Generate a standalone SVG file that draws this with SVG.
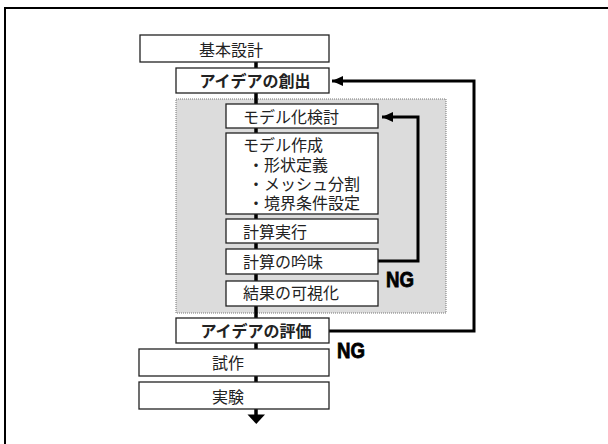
<svg xmlns="http://www.w3.org/2000/svg" width="608" height="444" viewBox="0 0 608 444">
<style>
.box{fill:#fff;stroke:#222;stroke-width:1.3}
.t{font-family:"Liberation Sans","Noto Sans CJK JP","Noto Sans CJK SC",sans-serif;font-size:16px;fill:#222}
.b{font-weight:bold}
.ln{stroke:#000;stroke-width:3.5;fill:none}
.fb{stroke:#000;stroke-width:3;fill:none}
.ng{font-family:"Liberation Sans",sans-serif;font-weight:bold;font-size:22px;fill:#000;stroke:#000;stroke-width:0.8}
</style>
<defs>
<marker id="ah" markerWidth="12" markerHeight="10" refX="11" refY="5" orient="auto" markerUnits="userSpaceOnUse">
<path d="M0,0 L11,5 L0,10 Z" fill="#000"/>
</marker>
</defs>
<rect x="5" y="8" width="620" height="460" fill="#fff" stroke="#000" stroke-width="2"/>
<g id="group-area">
<rect x="176" y="99" width="270" height="214" fill="#dcdcdc" stroke="#777" stroke-width="1" stroke-dasharray="1,1"/>
</g>
<g id="connectors">
<line class="ln" x1="256" y1="62" x2="256" y2="68"/>
<line class="ln" x1="256" y1="93" x2="256" y2="104"/>
<line class="ln" x1="256" y1="128" x2="256" y2="133"/>
<line class="ln" x1="256" y1="214" x2="256" y2="219"/>
<line class="ln" x1="256" y1="243" x2="256" y2="249"/>
<line class="ln" x1="256" y1="274" x2="256" y2="281"/>
<line class="ln" x1="256" y1="306" x2="256" y2="318"/>
<line class="ln" x1="256" y1="343" x2="256" y2="349"/>
<line class="ln" x1="256" y1="376" x2="256" y2="382"/>
<line class="ln" x1="256" y1="409" x2="256" y2="415"/>
<path d="M247.5,414.5 L265,414.5 L256.25,424 Z" fill="#000"/>
<polyline class="fb" points="378,261 418,261 418,117 382,117" marker-end="url(#ah)"/>
<polyline class="fb" points="329,331 474,331 474,81 332,81" marker-end="url(#ah)"/>
</g>
<g id="n-kihon"><rect class="box" x="140" y="35" width="189" height="27"/><text class="t" x="231" y="56" text-anchor="middle">基本設計</text></g>
<g id="n-sosyutsu"><rect class="box" x="176" y="68" width="153" height="25"/><text class="t b" x="255" y="87" text-anchor="middle">アイデアの創出</text></g>
<g id="n-kento"><rect class="box" x="226" y="104" width="152" height="24"/><text class="t" x="243" y="123">モデル化検討</text></g>
<g id="n-sakusei"><rect class="box" x="226" y="133" width="152" height="81"/>
<text class="t" x="243" y="151">モデル作成</text>
<text class="t" x="248" y="171">・形状定義</text>
<text class="t" x="248" y="190">・メッシュ分割</text>
<text class="t" x="248" y="209">・境界条件設定</text></g>
<g id="n-jikko"><rect class="box" x="226" y="219" width="152" height="24"/><text class="t" x="243" y="238">計算実行</text></g>
<g id="n-ginmi"><rect class="box" x="226" y="249" width="152" height="25"/><text class="t" x="243" y="268">計算の吟味</text></g>
<g id="n-kashika"><rect class="box" x="226" y="281" width="152" height="25"/><text class="t" x="243" y="299">結果の可視化</text></g>
<g id="n-hyoka"><rect class="box" x="176" y="318" width="153" height="25"/><text class="t b" x="256" y="337" text-anchor="middle">アイデアの評価</text></g>
<g id="n-shisaku"><rect class="box" x="139" y="349" width="190" height="27"/><text class="t" x="228" y="369" text-anchor="middle">試作</text></g>
<g id="n-jikken"><rect class="box" x="139" y="382" width="190" height="27"/><text class="t" x="228" y="403" text-anchor="middle">実験</text></g>
<g id="labels">
<text class="ng" x="386" y="287" textLength="28" lengthAdjust="spacingAndGlyphs">NG</text>
<text class="ng" x="337" y="358" textLength="28" lengthAdjust="spacingAndGlyphs">NG</text>
</g>
</svg>
